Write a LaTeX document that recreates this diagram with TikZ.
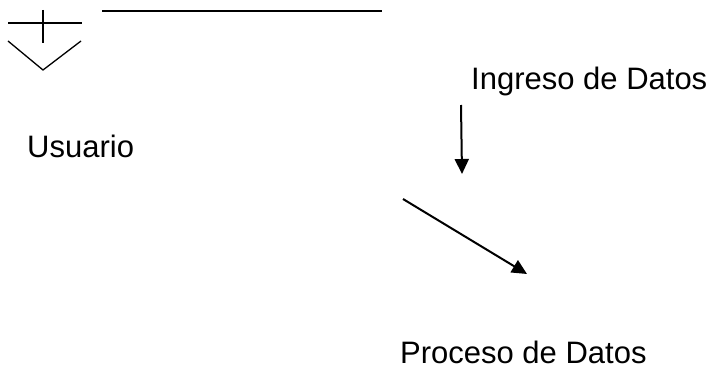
\documentclass[tikz,border=0pt]{standalone}
\usepackage{fontspec}
\setmainfont{Liberation Sans}
\usetikzlibrary{arrows.meta}
\begin{document}
\begin{tikzpicture}[x=1pt,y=-1pt,
  lbl/.style={anchor=base west,inner sep=0pt,font=\fontsize{31}{36}\selectfont},
  thin1/.style={line width=1.3pt},
  thick1/.style={line width=2pt},
  arr/.style={line width=2pt,-{Triangle[length=15pt,width=14pt]}}]
\useasboundingbox (0,0) rectangle (718,369);
% user symbol
\coordinate (hl) at (8,23); \coordinate (hr) at (82,23);
\coordinate (vt) at (43,10); \coordinate (vb) at (43,43);
\coordinate (va) at (8,41); \coordinate (vm) at (43,70); \coordinate (vc) at (81,41);
\draw[thin1] (hl) -- (hr);
\draw[thin1] (vt) -- (vb);
\draw[thin1] (va) -- (vm) -- (vc);
% top line
\coordinate (tl) at (102,11); \coordinate (tr) at (382,11);
\draw[thick1] (tl) -- (tr);
% labels
\node[lbl] (ingreso) at (471,89) {Ingreso de Datos};
\node[lbl] (usuario) at (27,157) {Usuario};
\node[lbl] (proceso) at (400,363) {Proceso de Datos};
% arrows
\coordinate (a1s) at (461,105); \coordinate (a1e) at (462,174);
\draw[arr] (a1s) -- (a1e);
\coordinate (a2s) at (403,199); \coordinate (a2e) at (527,274);
\draw[arr] (a2s) -- (a2e);
\end{tikzpicture}
\end{document}
